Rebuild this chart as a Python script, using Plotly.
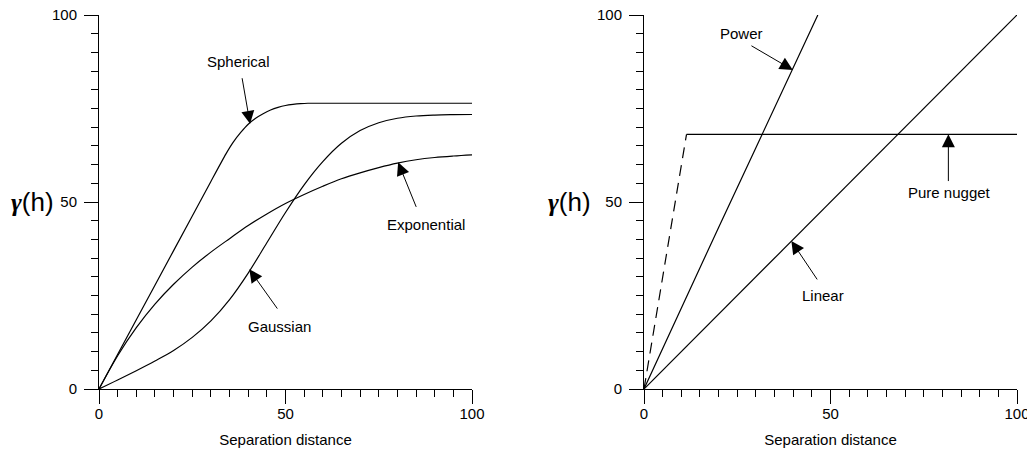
import plotly.graph_objects as go

# ---------------- data ----------------
sph_x = [0, 10, 20, 30, 34, 36, 38, 40, 42, 44, 46, 48, 50, 52, 54, 56, 60, 70, 80, 90, 100]
sph_y = [0, 18.5, 37.0, 55.5, 62.8, 66.0, 68.6, 70.8, 72.4, 73.6, 74.6, 75.3, 75.8, 76.1, 76.3, 76.4, 76.4, 76.4, 76.4, 76.4, 76.4]

exp_x = [0, 5, 10, 15, 20, 25, 30, 35, 40, 45, 50, 55, 60, 65, 70, 75, 80, 85, 90, 95, 100]
exp_y = [0, 8.9, 16.4, 22.7, 28.0, 32.6, 36.6, 40.2, 43.7, 46.8, 49.6, 52.0, 54.2, 56.2, 57.8, 59.2, 60.4, 61.3, 61.9, 62.3, 62.6]

gau_x = [0, 5, 10, 15, 20, 25, 30, 35, 40, 45, 50, 55, 60, 65, 70, 75, 80, 85, 90, 95, 100]
gau_y = [0, 2.4, 4.9, 7.5, 10.3, 13.8, 18.2, 23.9, 31.0, 39.1, 47.2, 54.6, 60.8, 65.7, 69.1, 71.2, 72.4, 73.0, 73.25, 73.35, 73.4]

pow_x = [0, 10, 20, 30, 40, 46.6]
pow_y = [0, 21.7, 43.2, 64.5, 85.8, 100]

lin_x = [0, 100]
lin_y = [0, 100]

nug_dash_x = [0, 11.4]
nug_dash_y = [0, 68.1]
nug_x = [11.4, 100]
nug_y = [68.1, 68.1]

tick_vals = [0, 50, 100]
tick_text = ["0", "50", "100"]

# labels: (text, text_x, text_y, tail_x, tail_y, tip_x, tip_y)
left_labels = [
    ("Spherical", 37.3, 87.7, 38.3, 83.5, 40.5, 70.9),
    ("Exponential", 87.7, 44.1, 85.2, 48.3, 80.2, 60.6),
    ("Gaussian", 48.3, 16.7, 48.1, 21.1, 40.3, 32.0),
]
right_labels = [
    ("Power", 26.2, 95.1, 28.4, 92.0, 39.9, 85.3),
    ("Pure nugget", 82.0, 52.5, 81.6, 55.2, 81.6, 68.1),
    ("Linear", 48.1, 24.9, 46.7, 28.9, 39.5, 39.6),
]

x_title = "Separation distance"
y_label = "<span style='font-family:Liberation Serif'><b><i>γ</i></b></span>(h)"

# ---------------- figure ----------------
FONT = "Liberation Sans, Arial, sans-serif"
W, H = 1027, 455
fig = go.Figure()

line = dict(color="black", width=1.2)

def add(x, y, xa, ya, dash=None, shape="spline", smooth=1.0):
    l = dict(line)
    if dash:
        l["dash"] = dash
    kw = dict(line_shape=shape)
    if shape == "spline":
        kw["line_smoothing"] = smooth
    fig.add_trace(go.Scatter(x=x, y=y, mode="lines", line=l, **kw,
                             xaxis=xa, yaxis=ya, showlegend=False, hoverinfo="skip"))

add(sph_x, sph_y, "x", "y", smooth=0.6)
add(exp_x, exp_y, "x", "y")
add(gau_x, gau_y, "x", "y")
add(pow_x, pow_y, "x2", "y2", shape="linear")
add(lin_x, lin_y, "x2", "y2", shape="linear")
add(nug_dash_x, nug_dash_y, "x2", "y2", dash="11px,7px", shape="linear")
add(nug_x, nug_y, "x2", "y2", shape="linear")

ydom = [(H - 389) / H, (H - 15) / H]
xdom1 = [99 / W, 472 / W]
xdom2 = [644 / W, 1017 / W]

def common():
    return dict(range=[0, 100], showline=True, linecolor="black", linewidth=1,
                ticks="outside", ticklen=14, tickwidth=1, tickcolor="black",
                tickvals=tick_vals, ticktext=tick_text, showgrid=False, zeroline=False,
                automargin=False, fixedrange=True, ticklabeloverflow="allow",
                minor=dict(ticks="outside", ticklen=7, tickwidth=1, tickcolor="black", dtick=5,
                           tick0=0, showgrid=False),
                tickfont=dict(family=FONT, size=15, color="black"))

def xaxis(dom, anchor):
    d = common()
    d.update(domain=dom, anchor=anchor, ticklabelstandoff=-3,
             title=dict(text=x_title, font=dict(family=FONT, size=15, color="black"), standoff=13))
    return d

def yaxis(anchor):
    d = common()
    d.update(domain=ydom, anchor=anchor, ticklabelstandoff=4)
    return d

annotations = []
for labels, xr, yr in [(left_labels, "x", "y"), (right_labels, "x2", "y2")]:
    for (t, tx, ty, ax, ay, px, py) in labels:
        annotations.append(dict(x=tx, y=ty, xref=xr, yref=yr, text=t, showarrow=False,
                                font=dict(family=FONT, size=15, color="black"),
                                xanchor="center", yanchor="middle"))
        annotations.append(dict(x=px, y=py, xref=xr, yref=yr, ax=ax, ay=ay, axref=xr, ayref=yr,
                                text="", showarrow=True, arrowhead=2, arrowsize=2.6,
                                arrowwidth=1, arrowcolor="black", standoff=0, startstandoff=0))

for cx in [32.5, 569]:
    annotations.append(dict(x=cx / W, y=(H - 202) / H, xref="paper", yref="paper", text=y_label,
                            showarrow=False, xanchor="center", yanchor="middle",
                            font=dict(family=FONT, size=26, color="black")))

fig.update_layout(
    template="none",
    width=W, height=H, autosize=False,
    margin=dict(l=0, r=0, t=0, b=0, pad=0),
    paper_bgcolor="white", plot_bgcolor="white",
    xaxis=xaxis(xdom1, "y"), yaxis=yaxis("x"),
    xaxis2=xaxis(xdom2, "y2"), yaxis2=yaxis("x2"),
    annotations=annotations,
)

fig.write_html("out.html", config={"displayModeBar": False})
